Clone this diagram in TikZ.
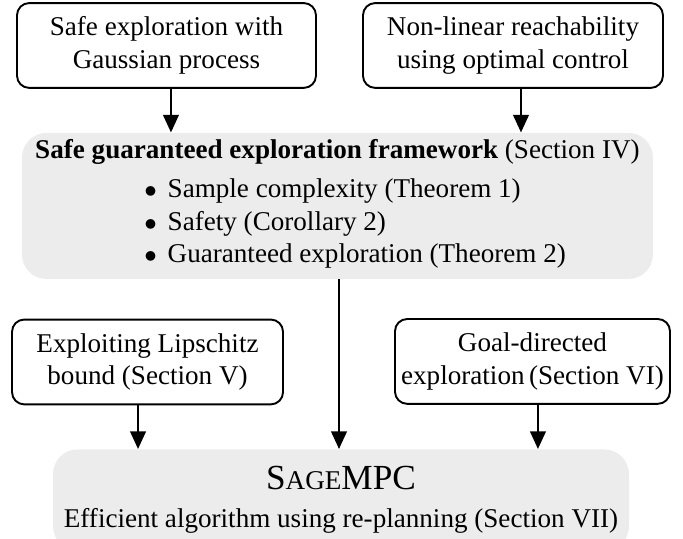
\documentclass[tikz,border=0pt]{standalone}
\usepackage{fontspec}
\setmainfont{Liberation Serif}
\usepackage{tikz}
\usetikzlibrary{arrows.meta,calc}
\definecolor{framegray}{HTML}{ECECEC}
\tikzset{
  >={Triangle[length=6.5pt,width=5.8pt]},
  line/.style={draw=black, ->, line width=0.7pt},
  box/.style={
    draw=black,
    rounded corners=4.5pt,
    line width=0.7pt,
    align=center,
    minimum height=1.10cm,
    inner sep=2pt
  },
  panel/.style={fill=framegray, rounded corners=9pt, align=center, inner sep=0pt}
}

\begin{document}
\begin{tikzpicture}[x=1cm,y=1cm]
  \path[use as bounding box] (0,0) rectangle (8.857,6.989);

  \node[box, minimum width=3.877cm] (gpx) at (2.159,6.399)
    {Safe exploration with\\Gaussian process};
  \node[box, minimum width=3.890cm] (reach) at (6.652,6.399)
    {Non-linear reachability\\using optimal control};

  \node[panel, minimum width=8.182cm, minimum height=1.893cm] (frame) at (4.376,4.318)
    {\textbf{Safe guaranteed exploration framework} (Section IV)\\[3pt]
     \hspace*{13pt}\begin{tabular}{@{}l@{}}
       {\small$\bullet$}\hspace{4pt}Sample complexity (Theorem 1)\\
       {\small$\bullet$}\hspace{4pt}Safety (Corollary 2)\\
       {\small$\bullet$}\hspace{4pt}Guaranteed exploration (Theorem 2)
     \end{tabular}};

  \node[box, minimum width=3.514cm] (lipschitz) at (1.913,2.295)
    {Exploiting Lipschitz\\bound (Section V)};
  \node[box, minimum width=3.566cm] (goal) at (6.905,2.302)
    {Goal-directed\\exploration\,(Section VI)};

  \node[panel, minimum width=7.469cm, anchor=north, inner ysep=6.3pt] (sagempc) at (4.422,1.167)
    {{\fontsize{13}{15}\selectfont S{\fontsize{10}{12}\selectfont AGE}MPC}\\[2pt]
     Efficient algorithm using re-planning (Section VII)};

  \draw[line] ($(gpx.south)+(0.058,0)$) -- ($(gpx.south |- frame.north)+(0.058,0)$);
  \draw[line] ($(reach.south)+(0.104,0)$) -- ($(reach.south |- frame.north)+(0.104,0)$);
  \draw[line] ($(frame.south)+(0.02,0)$) -- ($(frame.south |- sagempc.north)+(0.02,0)$);
  \draw[line] ($(lipschitz.south)+(-0.123,0)$) -- ($(lipschitz.south |- sagempc.north)+(-0.123,0)$);
  \draw[line] ($(goal.south)+(0.071,0)$) -- ($(goal.south |- sagempc.north)+(0.071,0)$);
\end{tikzpicture}
\end{document}
